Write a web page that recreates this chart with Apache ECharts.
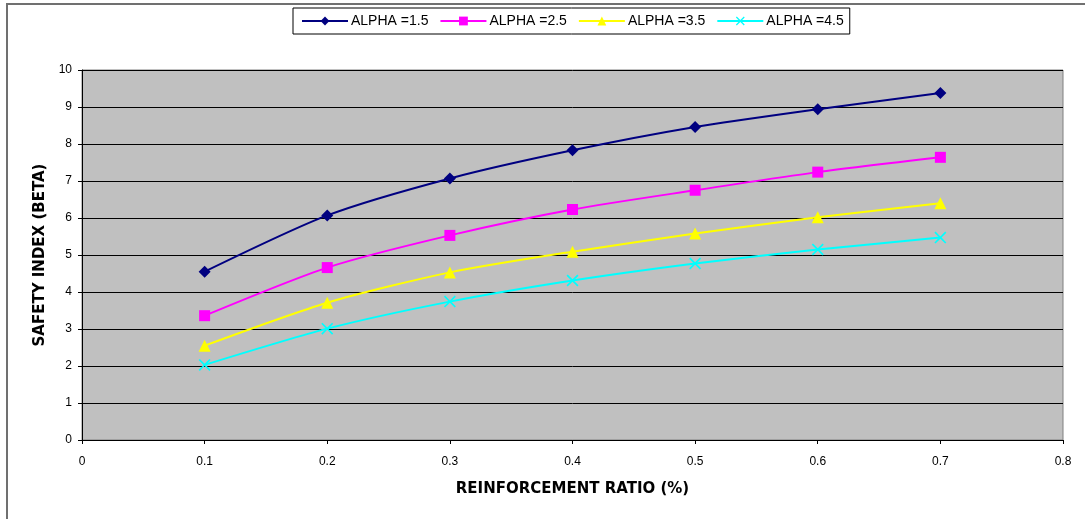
<!DOCTYPE html>
<html>
<head>
<meta charset="utf-8">
<script src="https://cdn.jsdelivr.net/npm/echarts@6/dist/echarts.min.js"></script>
<style>
  html, body { margin: 0; padding: 0; background: #fff; }
  #chart { width: 1085px; height: 519px; }
</style>
</head>
<body>
<div id="chart"></div>
<script>
const ratios = [0.1, 0.2, 0.3, 0.4, 0.5, 0.6, 0.7];
const alpha15 = [4.55, 6.07, 7.07, 7.83, 8.46, 8.94, 9.38];
const alpha25 = [3.36, 4.66, 5.53, 6.23, 6.75, 7.24, 7.64];
const alpha35 = [2.55, 3.71, 4.53, 5.09, 5.58, 6.02, 6.40];
const alpha45 = [2.03, 3.01, 3.74, 4.31, 4.77, 5.15, 5.47];
const seriesNames = ['ALPHA =1.5', 'ALPHA =2.5', 'ALPHA =3.5', 'ALPHA =4.5'];

const crossPath = 'path://M0,1L1,0L5,4L9,0L10,1L6,5L10,9L9,10L5,6L1,10L0,9L4,5Z';

function pairs(vals) {
  return ratios.map((r, i) => [r, vals[i]]);
}

function line(name, vals, color, symbol, size) {
  return {
    name: name,
    type: 'line',
    smooth: 0.25,
    symbol: symbol,
    symbolSize: size,
    lineStyle: { color: color, width: 2 },
    itemStyle: { color: color },
    data: pairs(vals),
  };
}

const chart = echarts.init(document.getElementById('chart'));
chart.setOption({
  animation: false,
  textStyle: { fontFamily: 'Liberation Sans, Arial, sans-serif' },
  graphic: [{
    type: 'rect',
    shape: { x: 7, y: 4, width: 1090, height: 530 },
    style: { fill: 'none', stroke: '#707070', lineWidth: 2 },
    silent: true,
  }],
  legend: {
    top: 8,
    left: 293,
    width: 570,
    padding: [6, 6, 6, 8],
    borderColor: '#000',
    borderWidth: 1,
    backgroundColor: '#fff',
    itemGap: 11,
    itemWidth: 46,
    itemHeight: 11,
    textStyle: { fontSize: 14, color: '#000', padding: [0, 0, 0, -2] },
    data: seriesNames,
  },
  grid: { left: 82, right: 22, top: 70, bottom: 79, backgroundColor: '#c0c0c0', show: true, borderWidth: 1, borderColor: '#808080' },
  xAxis: {
    type: 'value',
    min: 0,
    max: 0.8,
    interval: 0.1,
    name: 'REINFORCEMENT RATIO (%)',
    nameLocation: 'middle',
    nameGap: 42,
    nameTextStyle: { fontSize: 15, fontWeight: 'bold', color: '#000', fontFamily: 'DejaVu Sans' },
    axisLine: { onZero: false, lineStyle: { color: '#000' } },
    axisTick: { show: true, length: 4, lineStyle: { color: '#000' } },
    axisLabel: { fontSize: 12, color: '#000', margin: 16 },
    splitLine: { show: false },
  },
  yAxis: {
    type: 'value',
    min: 0,
    max: 10,
    interval: 1,
    name: 'SAFETY INDEX (BETA)',
    nameLocation: 'middle',
    nameGap: 34,
    nameTextStyle: { fontSize: 15, fontWeight: 'bold', color: '#000', fontFamily: 'DejaVu Sans' },
    axisLine: { show: true, lineStyle: { color: '#000' } },
    axisTick: { show: true, length: 4, lineStyle: { color: '#000' } },
    axisLabel: { fontSize: 12, color: '#000', margin: 10 },
    splitLine: { show: true, lineStyle: { color: '#000', width: 1 } },
  },
  series: [
    line(seriesNames[0], alpha15, '#000080', 'diamond', 12),
    line(seriesNames[1], alpha25, '#ff00ff', 'rect', 11),
    line(seriesNames[2], alpha35, '#ffff00', 'triangle', 12),
    line(seriesNames[3], alpha45, '#00ffff', crossPath, 12),
  ],
});
</script>
</body>
</html>
